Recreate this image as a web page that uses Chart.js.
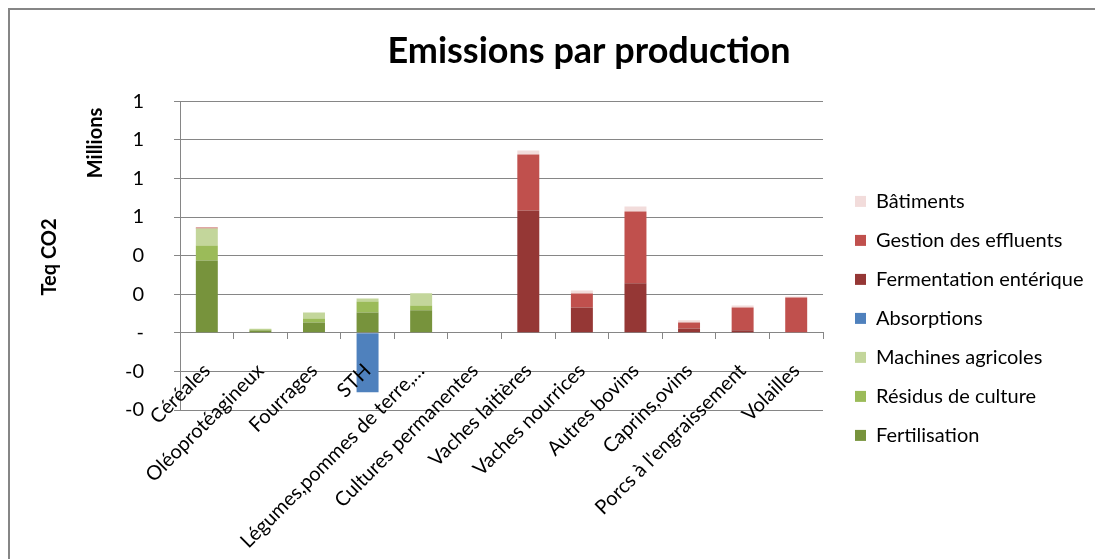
<!DOCTYPE html>
<html>
<head>
<meta charset="utf-8">
<script src="https://cdn.jsdelivr.net/npm/chart.js@4"></script>
<style>
    html, body { margin: 0; padding: 0; background: #fff; overflow: hidden; }
    #wrap { position: absolute; left: 0; top: 0; width: 1095px; height: 559px; }
</style>
</head>
<body>
<div id="wrap"><canvas id="chart" width="1095" height="559"></canvas></div>
<script>
// values in millions of t eq CO2
const categories = ['Céréales', 'Oléoprotéagineux', 'Fourrages', 'STH', 'Légumes,pommes de terre,…',
    'Cultures permanentes', 'Vaches laitières', 'Vaches nourrices', 'Autres bovins', 'Caprins,ovins',
    "Porcs à l'engraissement", 'Volailles'];

const fertilisation = [0.375, 0.012, 0.053, 0.105, 0.117, 0, 0, 0, 0, 0, 0, 0];
const residus       = [0.077, 0.005, 0.021, 0.057, 0.024, 0, 0, 0, 0, 0, 0, 0];
const machines      = [0.088, 0.004, 0.031, 0.016, 0.064, 0, 0, 0, 0, 0, 0, 0];
const absorptions   = [0, 0, 0, -0.308, 0, 0, 0, 0, 0, 0, 0, 0];
const fermentation  = [0, 0, 0, 0, 0, 0, 0.634, 0.131, 0.257, 0.022, 0.013, 0];
const effluents     = [0.005, 0, 0, 0, 0, 0, 0.290, 0.073, 0.372, 0.031, 0.118, 0.183];
const batiments     = [0, 0, 0, 0, 0, 0, 0.021, 0.015, 0.025, 0.012, 0.010, 0.005];

const FONT = 'Lato, "Open Sans", sans-serif';
const AXIS = '#868686';

// frame + rotated axis labels, like the Excel chart
const decorations = {
    id: 'decorations',
    beforeDraw(chart) {
        const ctx = chart.ctx;
        ctx.save();
        ctx.fillStyle = '#fff';
        ctx.fillRect(0, 0, chart.width, chart.height);
        ctx.strokeStyle = AXIS;
        ctx.lineWidth = 2;
        ctx.beginPath();
        ctx.moveTo(9, chart.height + 5);
        ctx.lineTo(9, 9);
        ctx.lineTo(chart.width + 5, 9);
        ctx.stroke();
        ctx.restore();
    },
    afterDraw(chart) {
        const ctx = chart.ctx;
        [['Teq CO2', 50, 257], ['Millions', 96, 143]].forEach(([txt, x, y]) => {
            ctx.save();
            ctx.fillStyle = '#000';
            ctx.font = 'bold 20px ' + FONT;
            ctx.textAlign = 'center';
            ctx.textBaseline = 'middle';
            ctx.translate(x, y);
            ctx.rotate(-Math.PI / 2);
            ctx.fillText(txt, 0, 0);
            ctx.restore();
        });
    }
};

// hidden axes that only reserve room around the plot area
const spacer = (position, size) => ({
    type: position === 'bottom' ? 'category' : 'linear',
    position: position,
    display: false,
    afterFit(scale) {
        if (position === 'bottom') scale.height = size;
        else scale.width = size;
    }
});

function series(label, data, color) {
    return {
        label: label,
        data: data,
        backgroundColor: color,
        borderWidth: 0,
        barPercentage: 0.41,
        categoryPercentage: 1
    };
}

new Chart(document.getElementById('chart'), {
    type: 'bar',
    data: {
        labels: categories,
        datasets: [
            series('Fertilisation', fertilisation, '#77933C'),
            series('Résidus de culture', residus, '#9BBB59'),
            series('Machines agricoles', machines, '#C3D69B'),
            series('Absorptions', absorptions, '#4F81BD'),
            series('Fermentation entérique', fermentation, '#953735'),
            series('Gestion des effluents', effluents, '#C0504D'),
            series('Bâtiments', batiments, '#F2DCDB')
        ]
    },
    plugins: [decorations],
    options: {
        responsive: false,
        animation: false,
        layout: {
            padding: { left: 95, right: 12, top: 18, bottom: 10 }
        },
        plugins: {
            title: {
                display: true,
                text: 'Emissions par production',
                color: '#000',
                font: { family: FONT, size: 36, weight: 'bold' },
                padding: { top: 12, bottom: 28 }
            },
            legend: {
                position: 'right',
                align: 'start',
                reverse: true,
                title: { display: true, text: '', padding: { top: 140 } },
                labels: {
                    color: '#000',
                    boxWidth: 11,
                    boxHeight: 11,
                    padding: 19,
                    font: { family: FONT, size: 20 }
                }
            },
            tooltip: { enabled: false }
        },
        scales: {
            x: {
                stacked: true,
                position: { y: 0 },
                grid: {
                    offset: true,
                    drawOnChartArea: false,
                    tickLength: 6,
                    color: AXIS
                },
                border: { color: AXIS },
                ticks: {
                    z: 1, // labels sit on top of the STH bar
                    color: '#000',
                    font: { family: FONT, size: 20 },
                    maxRotation: 45,
                    minRotation: 45,
                    autoSkip: false,
                    padding: 20
                }
            },
            xPad: spacer('bottom', 139),
            y: {
                stacked: true,
                min: -0.4,
                max: 1.2,
                grid: { color: AXIS, tickLength: 6 },
                border: { color: AXIS },
                ticks: {
                    stepSize: 0.2,
                    color: '#000',
                    padding: 30,
                    font: { family: FONT, size: 20 },
                    callback: v => Math.abs(v) < 1e-9 ? '-' : (v < 0 ? '-' : '') + Math.round(Math.abs(v))
                }
            },
            yPad: spacer('right', 13)
        }
    }
});
</script>
</body>
</html>
